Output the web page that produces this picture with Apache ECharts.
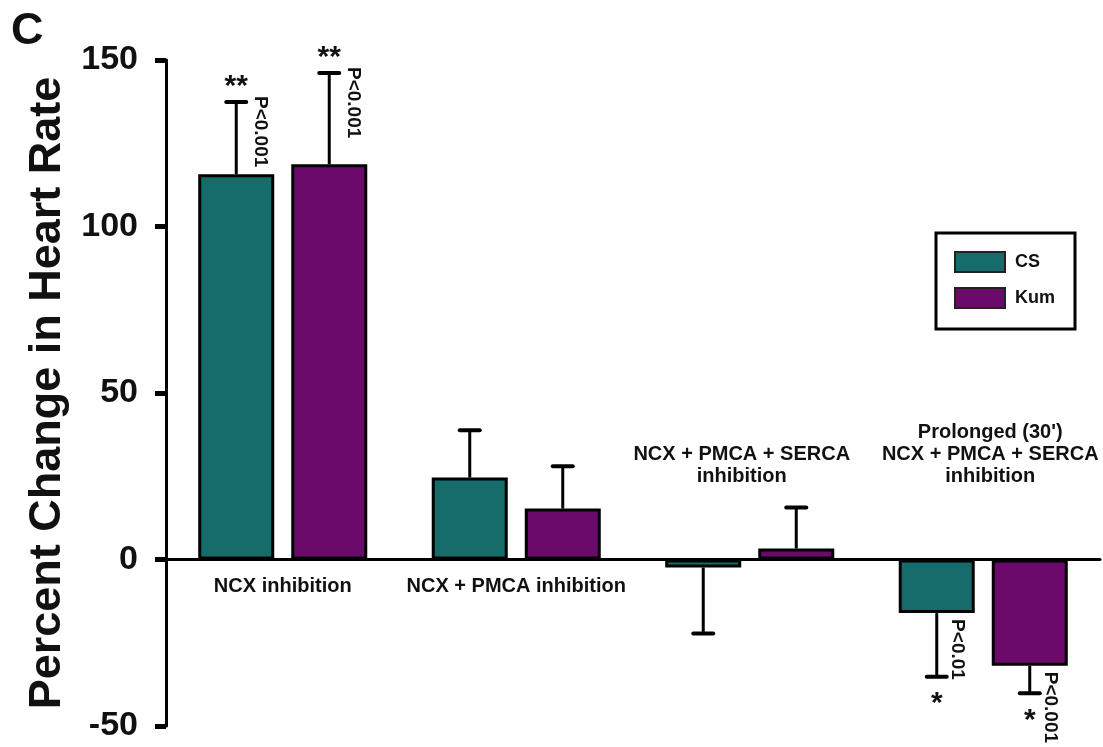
<!DOCTYPE html>
<html>
<head>
<meta charset="utf-8">
<script src="https://cdn.jsdelivr.net/npm/echarts@6/dist/echarts.min.js"></script>
<style>
  html, body { margin: 0; padding: 0; background: #fff; }
  #chart { width: 1103px; height: 747px; }
</style>
</head>
<body>
<div id="chart"></div>
<script>
// Percent change in heart rate, CS vs Kum, per inhibition protocol
const categories = [
  'NCX inhibition',
  'NCX + PMCA inhibition',
  'NCX + PMCA + SERCA\ninhibition',
  "Prolonged (30')\nNCX + PMCA + SERCA\ninhibition"
];
const csValues  = [115.7, 24.6, -2.4, -16.1];
const csErrors  = [21.7, 14.2, 19.8, 19.1];
const kumValues = [118.7, 15.3, 3.3, -31.9];
const kumErrors = [27.4, 12.7, 12.3, 8.3];
const csStars   = ['**', '', '', '*'];
const kumStars  = ['**', '', '', '*'];
const csPValues  = ['P<0.001', '', '', 'P<0.01'];
const kumPValues = ['P<0.001', '', '', 'P<0.001'];
const yTicks = [-50, 0, 50, 100, 150];

const CS_COLOR = '#156c6a';
const KUM_COLOR = '#6b0a6b';
const FONT = "'Liberation Sans', Arial, sans-serif";
const TEXT_COLOR = '#111';
const BAR_W = 76;
const BAR_GAP = 17;
// categories whose name sits above the zero line instead of under it
const labelAbove = [false, false, true, true];
const labelShift = [0, 0, -8, 7];
const ABOVE_LABEL_Y = 21.5;

function barX(api, i, side) {
  const c = api.coord([i, 0])[0];
  return c + side * (BAR_W + BAR_GAP) / 2;
}

// rows: [category, value, error, side(-1 CS / +1 Kum)] with matching marks
const errorRows = [];
const errorStars = [];
const errorPs = [];
categories.forEach((c, i) => {
  errorRows.push([i, csValues[i], csErrors[i], -1]);
  errorStars.push(csStars[i]);
  errorPs.push(csPValues[i]);
  errorRows.push([i, kumValues[i], kumErrors[i], 1]);
  errorStars.push(kumStars[i]);
  errorPs.push(kumPValues[i]);
});

// one-sided error bars with significance marks
function errorRender(params, api) {
  const i = api.value(0);
  const v = api.value(1);
  const e = api.value(2);
  const side = api.value(3);
  const star = errorStars[params.dataIndex];
  const pText = errorPs[params.dataIndex];
  const dir = v >= 0 ? 1 : -1;
  const x = barX(api, i, side);
  const yBar = api.coord([i, v])[1];
  const yEnd = api.coord([i, v + dir * e])[1];
  const children = [
    { type: 'line', shape: { x1: x, y1: yBar, x2: x, y2: yEnd },
      style: { stroke: '#000', lineWidth: 3 } },
    { type: 'line', shape: { x1: x - 10, y1: yEnd, x2: x + 10, y2: yEnd },
      style: { stroke: '#000', lineWidth: 4, lineCap: 'round' } }
  ];
  if (star) {
    children.push({
      type: 'text', x: x, y: dir > 0 ? yEnd - 30 : yEnd + 12,
      style: { text: star, font: 'bold 30px ' + FONT, fill: TEXT_COLOR,
               align: 'center', verticalAlign: 'top' }
    });
  }
  if (pText) {
    const startY = dir > 0 ? yEnd - 6 : yBar + 6;
    children.push({
      type: 'text', x: x + (dir > 0 ? 24 : 20), y: startY, rotation: -Math.PI / 2,
      style: { text: pText, font: 'bold 19px ' + FONT, fill: TEXT_COLOR,
               align: 'left', verticalAlign: 'middle' }
    });
  }
  return { type: 'group', children: children };
}

// category names: under the zero line, or above it for the last groups
function categoryLabelRender(params, api) {
  const i = api.value(0);
  const above = labelAbove[i];
  const p = api.coord([i, above ? ABOVE_LABEL_Y : 0]);
  return {
    type: 'text', x: p[0] + labelShift[i], y: above ? p[1] : p[1] + 16,
    style: { text: categories[i], font: 'bold 20px ' + FONT, fill: TEXT_COLOR,
             align: 'center', verticalAlign: above ? 'bottom' : 'top', lineHeight: 22 }
  };
}

const labelRows = categories.map((c, i) => [i, 0]);

const chart = echarts.init(document.getElementById('chart'));
chart.setOption({
  animation: false,
  backgroundColor: '#fff',
  textStyle: { fontFamily: FONT },
  grid: { left: 166, right: 3, top: 60, bottom: 21, containLabel: false, outerBoundsMode: 'none' },
  legend: {
    left: 936, top: 233,
    orient: 'vertical',
    data: ['CS', 'Kum'],
    itemWidth: 50, itemHeight: 20, itemGap: 14,
    padding: [18, 20, 20, 18],
    borderColor: '#000', borderWidth: 3,
    icon: 'rect',
    itemStyle: { borderColor: '#222', borderWidth: 2 },
    textStyle: { fontSize: 18, fontWeight: 'bold', color: TEXT_COLOR, padding: [0, 0, 0, 5] }
  },
  xAxis: {
    type: 'category',
    data: categories,
    axisLine: { onZero: true, lineStyle: { color: '#000', width: 3 } },
    axisTick: { show: false },
    axisLabel: { show: false },
    splitLine: { show: false }
  },
  yAxis: {
    type: 'value',
    min: -50, max: 150, interval: 50,
    name: 'Percent Change in Heart Rate',
    nameLocation: 'middle',
    nameGap: 94,
    nameTextStyle: { fontSize: 45, fontWeight: 'bold', color: TEXT_COLOR },
    axisLine: { show: true, lineStyle: { color: '#000', width: 3 } },
    axisTick: { show: true, length: 11, lineStyle: { color: '#000', width: 5 } },
    axisLabel: {
      margin: 28, fontSize: 34, fontWeight: 'bold', color: TEXT_COLOR,
      formatter: v => yTicks.includes(v) ? String(v) : ''
    },
    splitLine: { show: false }
  },
  graphic: [{
    type: 'text', left: 11, top: 9,
    style: { text: 'C', font: 'bold 45px ' + FONT, fill: TEXT_COLOR }
  }],
  series: [
    {
      name: 'CS', type: 'bar', data: csValues,
      barWidth: BAR_W, barGap: (BAR_GAP / BAR_W * 100).toFixed(1) + '%',
      itemStyle: { color: CS_COLOR, borderColor: '#000', borderWidth: 3 },
      z: 1
    },
    {
      name: 'Kum', type: 'bar', data: kumValues,
      barWidth: BAR_W,
      itemStyle: { color: KUM_COLOR, borderColor: '#000', borderWidth: 3 },
      z: 1
    },
    {
      type: 'custom', renderItem: errorRender, data: errorRows, z: 3,
      silent: true
    },
    {
      type: 'custom', renderItem: categoryLabelRender, data: labelRows, z: 3,
      silent: true
    }
  ]
});
</script>
</body>
</html>
